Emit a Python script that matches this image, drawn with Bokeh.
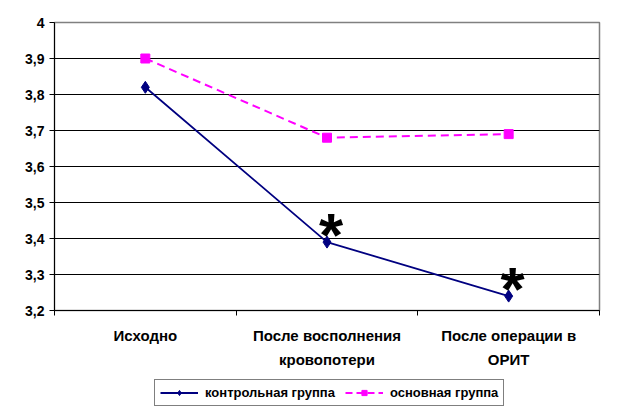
from bokeh.plotting import figure
from bokeh.layouts import column
from bokeh.models import (Range1d, LinearAxis, FixedTicker, Legend, LegendItem,
                          ColumnDataSource, Grid)
from bokeh.core.properties import value
from bokeh.embed import file_html
from bokeh.resources import INLINE

# ---- data ----
categories = ["Исходно", "После восполнения\nкровопотери", "После операции в\nОРИТ"]
control = [3.82, 3.39, 3.24]      # контрольная группа
main = [3.90, 3.68, 3.69]         # основная группа
marked = [False, True, True]      # significant difference (*)
y_ticks = [3.2, 3.3, 3.4, 3.5, 3.6, 3.7, 3.8, 3.9, 4.0]
y_labels = ["3,2", "3,3", "3,4", "3,5", "3,6", "3,7", "3,8", "3,9", "4"]
series_names = ["контрольная группа", "основная группа"]

FONT = "Liberation Sans"
NAVY = "#000080"
MAGENTA = "#FF00FF"
xs = [i + 0.5 for i in range(len(categories))]

p = figure(width=630, height=372, output_backend="svg", toolbar_location=None,
           x_range=Range1d(0, len(categories)), y_range=Range1d(3.2, 4.0),
           x_axis_type=None, y_axis_type=None,
           min_border_left=54, min_border_right=31, min_border_top=22,
           min_border_bottom=62)
p.outline_line_color = "#808080"
p.outline_line_width = 1.5
p.background_fill_color = "white"
p.border_fill_color = "white"

# y axis
yax = LinearAxis(ticker=FixedTicker(ticks=y_ticks),
                 major_label_overrides={t: l for t, l in zip(y_ticks, y_labels)})
yax.axis_line_color = "black"
yax.major_tick_line_color = "black"
yax.major_tick_out = 5
yax.major_tick_in = 0
yax.minor_tick_line_color = None
yax.major_label_text_font = FONT
yax.major_label_text_font_style = "bold"
yax.major_label_text_font_size = "14px"
yax.major_label_text_color = "black"
yax.major_label_standoff = 5
p.add_layout(yax, "left")

# x axis with tick marks at category boundaries
xtick_ax = LinearAxis(ticker=FixedTicker(ticks=list(range(len(categories) + 1))),
                      major_label_overrides={i: "" for i in range(len(categories) + 1)})
xtick_ax.axis_line_color = "black"
xtick_ax.major_tick_line_color = "black"
xtick_ax.major_tick_out = 5
xtick_ax.major_tick_in = 0
xtick_ax.minor_tick_line_color = None
xtick_ax.major_label_text_font_size = "0px"
xtick_ax.major_label_standoff = 0
p.add_layout(xtick_ax, "below")

# x axis carrying category labels
xlab_ax = LinearAxis(ticker=FixedTicker(ticks=xs),
                     major_label_overrides={x: c for x, c in zip(xs, categories)})
xlab_ax.axis_line_color = None
xlab_ax.major_tick_line_color = None
xlab_ax.minor_tick_line_color = None
xlab_ax.major_label_text_font = FONT
xlab_ax.major_label_text_font_style = "bold"
xlab_ax.major_label_text_font_size = "15px"
xlab_ax.major_label_text_color = "black"
xlab_ax.major_label_text_line_height = 1.45
xlab_ax.major_label_standoff = 5
p.add_layout(xlab_ax, "below")

# grid
grid = Grid(dimension=1, ticker=FixedTicker(ticks=y_ticks[1:-1]))
grid.grid_line_color = "black"
grid.grid_line_width = 1
p.add_layout(grid)

src = ColumnDataSource(dict(x=xs, control=control, main=main))

p.line("x", "main", source=src, line_color=MAGENTA, line_width=2, line_dash="8 5")
p.scatter("x", "main", source=src, marker="square", size=9,
          fill_color=MAGENTA, line_color=MAGENTA)
p.line("x", "control", source=src, line_color=NAVY, line_width=1.8)
p.scatter("x", "control", source=src, marker="diamond", size=12,
          fill_color=NAVY, line_color=NAVY)

# asterisks
star_x = [x for x, m in zip(xs, marked) if m]
star_y = [c for c, m in zip(control, marked) if m]
p.text(x=star_x, y=star_y, text=["*"] * len(star_x), text_font=value(FONT),
       text_font_style="bold", text_font_size="62px", text_align="center",
       text_baseline="alphabetic", x_offset=4, y_offset=-8, text_color="black")

# ---- legend strip below the chart ----
lg = figure(width=630, height=45, output_backend="svg", toolbar_location=None,
            x_range=Range1d(0, len(categories)), y_range=Range1d(100, 101),
            x_axis_type=None, y_axis_type=None,
            min_border_left=0, min_border_right=0, min_border_top=0,
            min_border_bottom=0)
lg.outline_line_color = None
lg.grid.visible = False
lsrc = ColumnDataSource(dict(x=xs, control=control, main=main))
l1 = lg.line("x", "control", source=lsrc, line_color=NAVY, line_width=1.8)
s1 = lg.scatter("x", "control", source=lsrc, marker="diamond", size=10,
                fill_color=NAVY, line_color=NAVY)
l2 = lg.line("x", "main", source=lsrc, line_color=MAGENTA, line_width=2, line_dash="7 4")
s2 = lg.scatter("x", "main", source=lsrc, marker="square", size=7,
                fill_color=MAGENTA, line_color=MAGENTA)

legend = Legend(items=[LegendItem(label=series_names[0], renderers=[l1, s1]),
                       LegendItem(label=series_names[1], renderers=[l2, s2])],
                orientation="horizontal", location=(100, 11))
legend.border_line_color = "black"
legend.border_line_width = 1
legend.background_fill_alpha = 1
legend.label_text_font = FONT
legend.label_text_font_style = "bold"
legend.label_text_font_size = "13px"
legend.label_text_color = "black"
legend.glyph_width = 38
legend.glyph_height = 13
legend.padding = 5
legend.spacing = 10
legend.margin = 0
legend.label_standoff = 7
legend.label_height = 13
lg.add_layout(legend, "center")

layout = column(p, lg, spacing=0)
open("out.html", "w").write(file_html(layout, INLINE))
